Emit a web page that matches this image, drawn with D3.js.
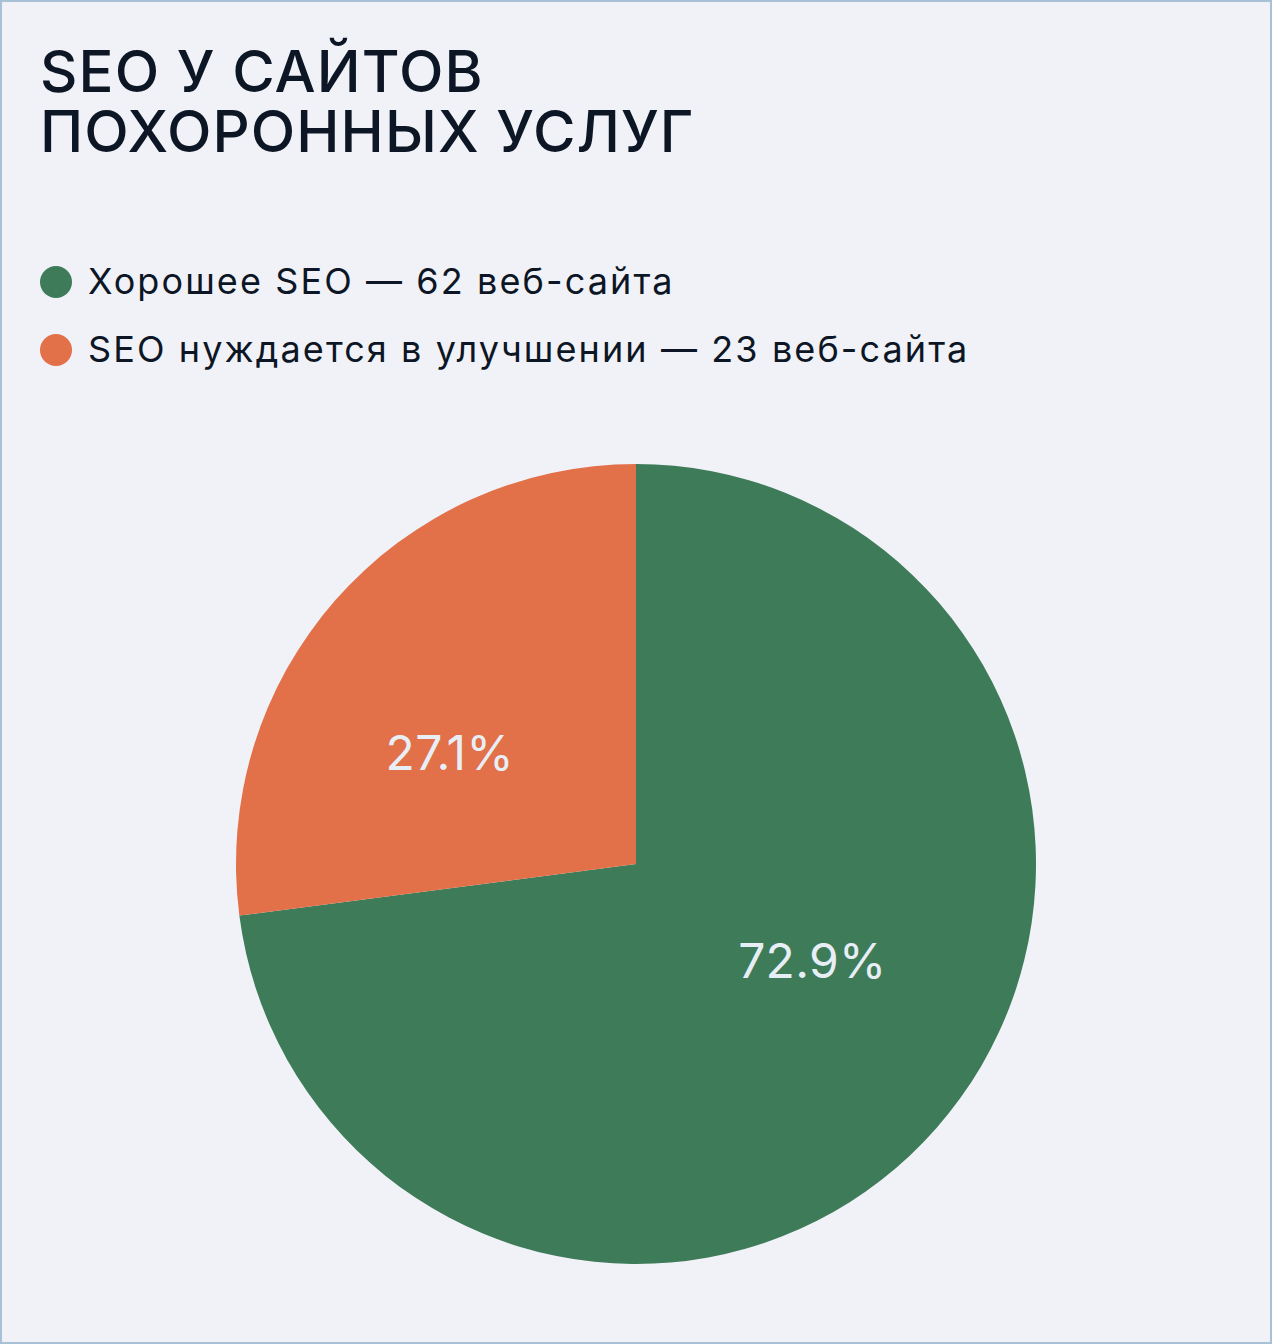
<!DOCTYPE html>
<html>
<head>
<meta charset="utf-8">
<script src="https://cdn.jsdelivr.net/npm/d3@7"></script>
<style>
  html, body { margin: 0; padding: 0; background: #f0f2f8; }
  svg { display: block; font-family: Inter, "Noto Sans", sans-serif; }
</style>
</head>
<body>
<div id="main_div"></div>
<script>
let titleLines=["SEO У САЙТОВ","ПОХОРОННЫХ УСЛУГ"];
let categories=["Хорошее SEO","SEO нуждается в улучшении"];
let counts=[62,23];
let legendLabels=["Хорошее SEO — 62 веб-сайта","SEO нуждается в улучшении — 23 веб-сайта"];
let colors=["#3e7b58","#e27048"];

let size=[1272,1344];
let center=[636,864];
let radius=400;

let svg=d3.select("#main_div")
    .append("svg")
    .attr("width",size[0])
    .attr("height",size[1])
    .attr("id","main_svg");

/** background and frame */
svg.append("rect")
    .attr("x",1).attr("y",1)
    .attr("width",size[0]-2).attr("height",size[1]-2)
    .attr("fill","#f0f2f8")
    .attr("stroke","#a9c1d6")
    .attr("stroke-width",2);

/** title, one text per line */
svg.selectAll(".title")
    .data(titleLines)
    .enter()
    .append("text")
    .attr("class","title")
    .attr("x",40)
    .attr("y",function(d,i){return 92+i*60})
    .attr("fill","#0d1624")
    .style("font-size","58px")
    .style("font-weight",500)
    .style("letter-spacing","1.1px")
    .text(function(d){return d});

/** legend */
let legend=svg.append("g").attr("id","legend");
let items=legend.selectAll("g")
    .data(legendLabels)
    .enter()
    .append("g")
    .attr("transform",function(d,i){return "translate(56,"+(282+i*68)+")"});
items.append("circle")
    .attr("r",16)
    .attr("fill",function(d,i){return colors[i]});
items.append("text")
    .attr("x",32)
    .attr("y",12)
    .attr("fill","#0d1624")
    .style("font-size","36px")
    .style("letter-spacing","2.1px")
    .text(function(d){return d});

/** pie */
let total=d3.sum(counts);
let pie=d3.pie().sort(null).value(function(d){return d});
let arcs=pie(counts);
let arc=d3.arc().innerRadius(0).outerRadius(radius);
let labelShift=-0.2;

let plot=svg.append("g")
    .attr("transform","translate("+center[0]+","+center[1]+")")
    .attr("id","plots");

plot.selectAll("path")
    .data(arcs)
    .enter()
    .append("path")
    .attr("d",arc)
    .attr("fill",function(d,i){return colors[i]});

plot.selectAll("text")
    .data(arcs)
    .enter()
    .append("text")
    .attr("transform",function(d){
        let a=(d.startAngle+d.endAngle)/2+labelShift;
        let r=209;
        return "translate("+(r*Math.sin(a)-5)+","+(-r*Math.cos(a))+")";
    })
    .attr("text-anchor","middle")
    .attr("dy","0.2em")
    .attr("fill","#e8eef6")
    .style("font-size","48px")
    .style("letter-spacing","0.3px")
    .text(function(d){return (100*d.value/total).toFixed(1)+"%"});
</script>
</body>
</html>
